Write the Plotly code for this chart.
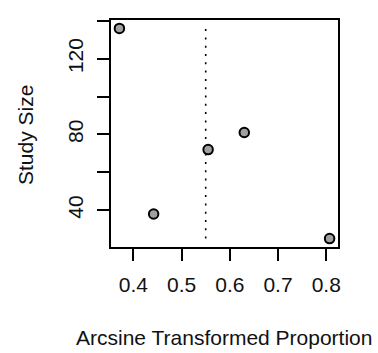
import plotly.graph_objects as go

# Study-level estimates
effect = [0.371, 0.442, 0.555, 0.630, 0.807]   # arcsine transformed proportion
study_size = [136, 38, 72, 81, 25]
pooled = 0.55                                   # pooled estimate (dotted reference line)

x_ticks = [0.4, 0.5, 0.6, 0.7, 0.8]
y_ticks = [40, 60, 80, 100, 120, 140]
y_tick_text = ["40", "", "80", "", "120", ""]


def padded(vals, frac=0.04):
    lo, hi = min(vals), max(vals)
    d = (hi - lo) * frac
    return [lo - d, hi + d]


FONT = "Liberation Sans, Arial, Helvetica, sans-serif"
INK = "#111111"
L, R, T, B = 111, 40, 20, 106
W, H = 378, 353

fig = go.Figure()

fig.add_trace(go.Scatter(
    x=[pooled, pooled], y=[min(study_size), max(study_size)],
    mode="lines", line=dict(color="black", width=1.6, dash="2px,6.3px"),
    hoverinfo="skip", showlegend=False,
))

fig.add_trace(go.Scatter(
    x=effect, y=study_size, mode="markers",
    marker=dict(size=9.5, color="#A0A0A0", line=dict(color="black", width=2)),
    showlegend=False,
))

axis_common = dict(
    showgrid=False, zeroline=False, showline=True, mirror=True,
    linecolor="black", linewidth=2,
    ticks="outside", ticklen=12, tickwidth=2, tickcolor="black",
    tickfont=dict(family=FONT, size=21, color=INK),
)

fig.update_xaxes(range=padded(effect), tickvals=x_ticks,
                 ticktext=[f"{v:.1f}" for v in x_ticks],
                 ticklabelstandoff=6, **axis_common)
fig.update_yaxes(range=padded(study_size), tickvals=y_ticks,
                 ticktext=y_tick_text, tickangle=-90,
                 ticklabelstandoff=6, **axis_common)

pw, ph = W - L - R, H - T - B
fig.update_layout(
    width=W, height=H,
    margin=dict(l=L, r=R, t=T, b=B, pad=0),
    plot_bgcolor="white", paper_bgcolor="white",
    font=dict(family=FONT, size=21, color=INK),
    annotations=[
        dict(text="Arcsine Transformed Proportion", xref="paper", yref="paper",
             x=(224 - L) / pw, y=-(337 - (T + ph)) / ph,
             xanchor="center", yanchor="middle", showarrow=False,
             font=dict(family=FONT, size=21, color=INK)),
        dict(text="Study Size", xref="paper", yref="paper",
             x=-(L - 25) / pw, y=1 - (135 - T) / ph, textangle=-90,
             xanchor="center", yanchor="middle", showarrow=False,
             font=dict(family=FONT, size=21, color=INK)),
    ],
)

fig.write_html("out.html")
